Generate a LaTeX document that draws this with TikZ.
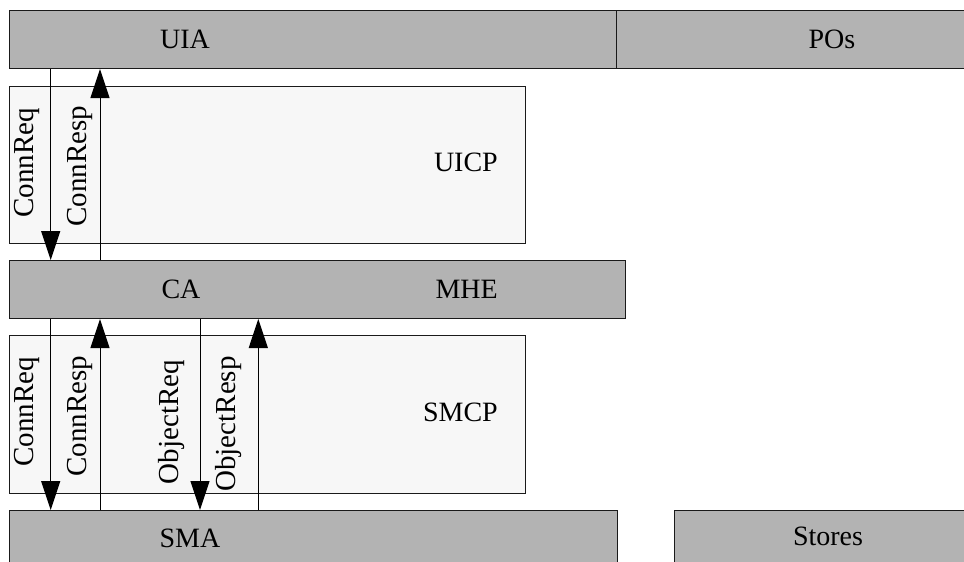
\documentclass[tikz,border=0pt]{standalone}
\usepackage{fontspec}
\setmainfont{Liberation Serif}
\usetikzlibrary{arrows.meta,calc}

\definecolor{layergray}{HTML}{B3B3B3}
\definecolor{panelgray}{HTML}{F7F7F7}
\definecolor{edgeink}{HTML}{1A1A1A}

\tikzset{
  layerbox/.style={draw=edgeink, fill=layergray, line width=1pt,
    rectangle, anchor=north west, inner sep=0pt},
  panelbox/.style={draw=edgeink, fill=panelgray, line width=1pt,
    rectangle, anchor=north west, inner sep=0pt},
  boxlabel/.style={inner sep=0pt, font=\fontsize{28}{34}\selectfont},
  msglabel/.style={inner sep=0pt, rotate=90, anchor=base,
    font=\fontsize{29}{35}\selectfont},
  msg/.style={draw=black, line width=1pt,
    -{Triangle[length=29pt,width=19pt]}},
}

\begin{document}
\begin{tikzpicture}[x=1pt,y=-1pt]
  \useasboundingbox (0,0) rectangle (964,562);
  \clip (0,0) rectangle (964,562);
  \fill[white] (0,0) rectangle (964,562);

  % top layer: agent and presentation objects
  \node[layerbox, minimum width=607pt, minimum height=58pt] (UIA) at (9,10) {};
  \node[layerbox, minimum width=400pt, minimum height=58pt] (POs) at (616,10) {};
  % user interface communication protocol
  \node[panelbox, minimum width=516pt, minimum height=157pt] (UICP) at (9,86) {};
  % middle layer: communication agent and message handling
  \node[layerbox, minimum width=616pt, minimum height=58pt] (CA) at (9,260) {};
  % storage manager communication protocol
  \node[panelbox, minimum width=516pt, minimum height=158pt] (SMCP) at (9,335) {};
  % bottom layer: storage manager agent and stores
  \node[layerbox, minimum width=608pt, minimum height=80pt] (SMA) at (9,510) {};
  \node[layerbox, minimum width=340pt, minimum height=80pt] (Stores) at (674,510) {};

  % box captions
  \node[boxlabel] (tUIA) at (185,39) {UIA};
  \node[boxlabel] (tPOs) at (832,39) {POs};
  \node[boxlabel, anchor=east] (tUICP) at (498,162) {UICP};
  \node[boxlabel] (tCA) at (181,289) {CA};
  \node[boxlabel, anchor=east] (tMHE) at (498,289) {MHE};
  \node[boxlabel, anchor=east] (tSMCP) at (498,412) {SMCP};
  \node[boxlabel] (tSMA) at (190,538) {SMA};
  \node[boxlabel] (tStores) at (828,536) {Stores};

  % connection handshake between UIA and CA
  \draw[msg] ($(UIA.south west)+(41.7,0)$) -- ($(CA.north west)+(41.7,0)$);
  \draw[msg] ($(CA.north west)+(91,0)$) -- ($(UIA.south west)+(91,0)$);
  \node[msglabel] (lReqU) at (34,163) {ConnReq};
  \node[msglabel] (lRespU) at (86,166) {ConnResp};

  % connection and object exchange between CA and SMA
  \draw[msg] ($(CA.south west)+(41.7,0)$) -- ($(SMA.north west)+(41.7,0)$);
  \draw[msg] ($(SMA.north west)+(91,0)$) -- ($(CA.south west)+(91,0)$);
  \draw[msg] ($(CA.south west)+(191,0)$) -- ($(SMA.north west)+(191,0)$);
  \draw[msg] ($(SMA.north west)+(249.3,0)$) -- ($(CA.south west)+(249.3,0)$);
  \node[msglabel] (lReqL) at (34,412) {ConnReq};
  \node[msglabel] (lRespL) at (86,416) {ConnResp};
  \node[msglabel] (lObjReq) at (178,422) {ObjectReq};
  \node[msglabel] (lObjResp) at (235,424) {ObjectResp};
\end{tikzpicture}
\end{document}
